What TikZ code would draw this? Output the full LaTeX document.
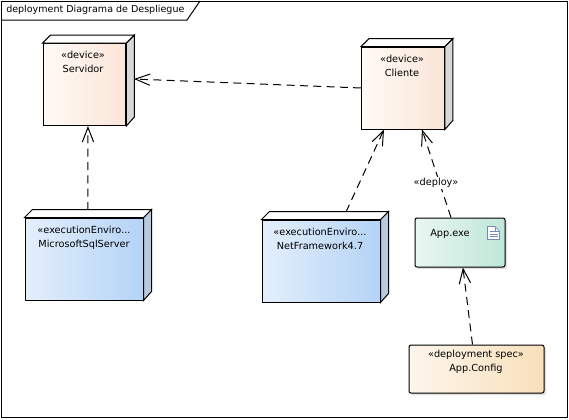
\documentclass[tikz,border=0pt]{standalone}
\usepackage{fontspec}
\setmainfont{DejaVu Sans}
\usetikzlibrary{arrows.meta}
\definecolor{devleft}{HTML}{FFFAF6}
\definecolor{devright}{HTML}{FAE5D8}
\definecolor{devside}{HTML}{D8D8D8}
\definecolor{envleft}{HTML}{E4EFFC}
\definecolor{envright}{HTML}{B4D3F6}
\definecolor{envside}{HTML}{B9C9DE}
\definecolor{artleft}{HTML}{E9F6F1}
\definecolor{artright}{HTML}{BFE7D8}
\definecolor{specleft}{HTML}{FDF6EC}
\definecolor{specright}{HTML}{F8DFBB}
\definecolor{iconblue}{HTML}{6F8BB8}
\tikzset{
  umltext/.style={font=\fontsize{7.3}{10.5}\selectfont, align=center, inner sep=0pt, anchor=north},
  umlnode/.style={draw=black, line width=0.75pt, inner sep=0pt, minimum width=#1},
  devicebox/.style={umlnode=62pt, minimum height=61.5pt, left color=devleft, right color=devright},
  envbox/.style={umlnode=88.5pt, minimum height=61.5pt, left color=envleft, right color=envright},
  artbox/.style={umlnode=67.5pt, minimum height=36.75pt, rounded corners=1.5pt, left color=artleft, right color=artright},
  specbox/.style={umlnode=101.25pt, minimum height=36pt, rounded corners=1.5pt, left color=specleft, right color=specright},
  softshadow/.style={fill=black!12, draw=none, rounded corners=1.5pt},
  dep/.style={line width=0.75pt, dash pattern=on 6pt off 4pt, -{Straight Barb[length=11pt,width=8.5pt,line width=0.75pt]}},
}
\begin{document}
\begin{tikzpicture}[x=0.75pt, y=-0.75pt]
  \useasboundingbox (0,0) rectangle (569,419);

  % --- frame ---
  \fill[white] (0,0) rectangle (569,419);
  \draw[line width=0.75pt] (1,1) rectangle (567,417);
  \draw[line width=0.75pt] (1,20) -- (187,20) -- (200,1);
  \node[font=\fontsize{7.15}{9}\selectfont, inner sep=0pt, anchor=west] (frametitle) at (6,10) {deployment Diagrama de Despliegue};

  % --- shadows of the rounded boxes ---
  \fill[softshadow] (417,220) rectangle (507,269);
  \fill[softshadow] (411,347) rectangle (546,395);

  % --- boxes ---
  \node[devicebox] (servidor) at (84.5,84.5) {};
  \node[devicebox] (cliente) at (403,88) {};
  \node[envbox] (sqlserver) at (84,259) {};
  \node[envbox] (netframework) at (321,261) {};
  \node[artbox] (appexe) at (460,242.5) {};
  \node[specbox] (appconfig) at (476.5,369) {};

  % side and top faces
  \foreach \nd/\side in {servidor/devside, cliente/devside, sqlserver/envside, netframework/envside} {
    \draw[line width=0.75pt, fill=\side] (\nd.north east) -- ++(8,-8) -- ++(0,82) -- (\nd.south east) -- cycle;
    \draw[line width=0.75pt, fill=white] (\nd.north west) -- ++(8,-8) -- ([shift={(8,-8)}]\nd.north east) -- (\nd.north east) -- cycle;
  }

  % --- texts ---
  \node[umltext] (servidortext) at (83,51) {«device»\\Servidor};
  \node[umltext] (clientetext) at (402,55) {«device»\\Cliente};
  \node[umltext] (sqltext) at (84,226) {«executionEnviro...\\MicrosoftSqlServer};
  \node[umltext] (nettext) at (320,228) {«executionEnviro...\\NetFramework4.7};
  \node[umltext] (exetext) at (450,229) {App.exe};
  \node[umltext] (configtext) at (476,350) {«deployment spec»\\App.Config};

  % --- document icon ---
  \draw[iconblue, fill=white, line width=0.5pt] (487.5,226.5) -- (495,226.5) -- (499.5,231) -- (499.5,239.5) -- (487.5,239.5) -- cycle;
  \draw[iconblue, line width=0.5pt] (495,226.5) -- (495,231) -- (499.5,231);
  \foreach \y in {231,234,236.5} {
    \draw[iconblue, line width=0.5pt] (489.5,\y) -- (497.5,\y);
  }

  % --- connectors ---
  \coordinate (sqltop) at (88,210);
  \coordinate (netback) at (346,212);
  \coordinate (servidorside) at (134,79);
  \draw[dep] (sqltop) -- ([xshift=2.6pt]servidor.south);
  \draw[dep] (cliente.west) -- (servidorside);
  \draw[dep] (netback) -- ([xshift=-14.25pt]cliente.south);
  \draw[dep] ([xshift=-6.75pt]appexe.north) -- ([xshift=14.25pt]cliente.south);
  \draw[dep] ([xshift=-3pt]appconfig.north) -- ([xshift=2.2pt]appexe.south);

  % label of the deploy line
  \node[umltext, anchor=center, fill=white, inner sep=1pt] (deploylabel) at (436,183) {«deploy»};
\end{tikzpicture}
\end{document}
